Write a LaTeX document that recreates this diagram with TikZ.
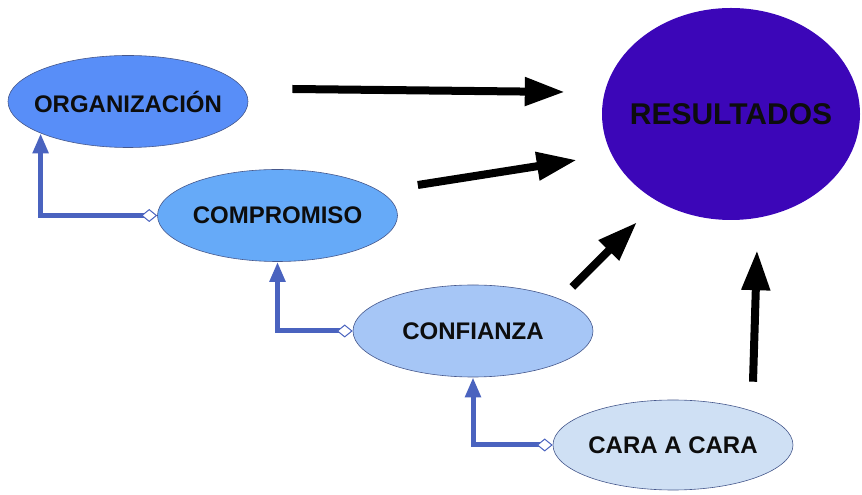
\documentclass[tikz,border=0pt]{standalone}
\usepackage{fontspec}
\setmainfont{Liberation Sans}
\usetikzlibrary{arrows.meta}
\usetikzlibrary{shapes.geometric}

\definecolor{orgblue}{RGB}{88,142,248}
\definecolor{compblue}{RGB}{102,170,248}
\definecolor{confblue}{RGB}{166,198,246}
\definecolor{carablue}{RGB}{207,224,244}
\definecolor{resviolet}{RGB}{60,6,184}
\definecolor{edgeblue}{RGB}{70,88,140}
\definecolor{linkblue}{RGB}{74,99,191}

\newcommand{\centred}[1]{\makebox[0pt]{#1}}

\tikzset{
    box/.style={ellipse, draw=edgeblue, line width=0.6pt, inner sep=0pt,
        minimum width=240pt, minimum height=92pt, text=black!95,
        font=\bfseries\fontsize{24}{28}\selectfont},
    push/.style={line width=8pt, -{Triangle[length=40pt,width=27pt]}},
    link/.style={draw=linkblue, line width=5pt,
        {Diamond[fill=white,line width=1pt,length=16pt,width=13pt]}-{Triangle[length=20pt,width=15pt]}}
}

\begin{document}
\begin{tikzpicture}[x=1pt,y=1pt]
        \useasboundingbox (0,0) rectangle (862,495);

        \node[box, fill=orgblue] (org) at (128,393.5) {\centred{ORGANIZACIÓN}};
        \node[box, fill=compblue] (comp) at (277.5,279.5) {\centred{COMPROMISO}};
        \node[box, fill=confblue] (conf) at (473,164) {\centred{CONFIANZA}};
        \node[box, fill=carablue, minimum height=90pt] (cara) at (673,50) {\centred{CARA A CARA}};
        \node[ellipse, fill=resviolet, inner sep=0pt, minimum width=258pt,
            minimum height=212pt, text=black!95,
            font=\bfseries\fontsize{30}{34}\selectfont] (res) at (731,381) {\centred{RESULTADOS}};

        % toward the results
        \draw[push] ([shift={(44,12.5)}]org.east) -- ([shift={(-37,22)}]res.west);
        \draw[push] ([shift={(20,30.5)}]comp.east) -- ([shift={(-25,-46)}]res.west);
        \draw[push] ([shift={(-21,44)}]conf.east) -- ([shift={(-94,-2)}]res.south);
        \draw[push] ([shift={(80,18)}]cara.north) -- ([shift={(26,-30)}]res.south);

        % chain of links
        \draw[link] (comp.west) -| (org.200);
        \draw[link] (conf.west) -| (comp.south);
        \draw[link] (cara.west) -| (conf.south);
    \end{tikzpicture}
\end{document}
